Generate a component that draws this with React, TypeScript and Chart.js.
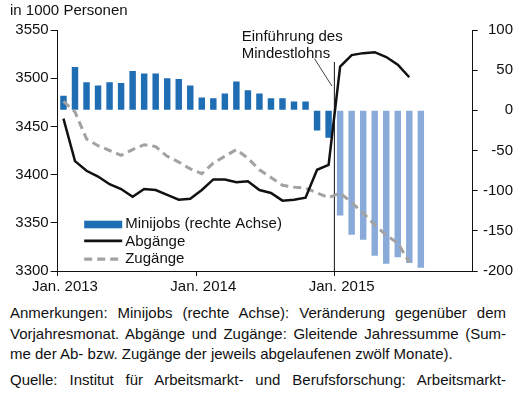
import React, { useEffect, useRef } from "react";
import { Chart, registerables } from "chart.js";

Chart.register(...registerables);

const FONT = "'Liberation Sans', Arial, Helvetica, sans-serif";
const TEXT = "#111111";
const DARK_BLUE = "#1f6db3";
const LIGHT_BLUE = "#8aabd9";
const GRAY = "#a2a2a2";

// Categories: months Jan. 2013 .. Dez. 2015
const monthNames = ["Jan.", "Feb.", "März", "Apr.", "Mai", "Juni", "Juli", "Aug.", "Sep.", "Okt.", "Nov.", "Dez."];
const years = [2013, 2014, 2015];
const categories = years.flatMap((y) => monthNames.map((m) => `${m} ${y}`));
const xTickLabels = ["Jan. 2013", "Jan. 2014", "Jan. 2015"];

// Axis ranges
const leftMin = 3300;
const leftMax = 3550;
const rightMin = -200;
const rightMax = 100;
const tickStep = 50;

// Minijobs: change vs. previous-year month (right axis), Jan 2013 .. Aug 2015
const minijobs = [
  18, 54, 35, 31, 35, 34, 49, 46, 46, 40, 39, 31,
  16, 15, 21, 36, 25, 21, 15, 15, 11, 11, -25, -34,
  -131, -155, -161, -181, -191, -183, -190, -196,
];

// Abgänge: rolling annual sum (left axis), Jan 2013 .. Jul 2015
const abgaenge = [
  3458, 3414, 3404, 3398, 3390, 3385, 3377, 3385, 3384, 3379, 3374, 3375,
  3384, 3395, 3395, 3392, 3393, 3384, 3381, 3373, 3374, 3376, 3405, 3410,
  3512, 3524, 3526, 3527, 3522, 3514, 3501,
];

// Zugänge: rolling annual sum (left axis), Jan 2013 .. Jul 2015
const zugaenge = [
  3476, 3465, 3437, 3430, 3425, 3420, 3426, 3431, 3429, 3419, 3413, 3406,
  3401, 3412, 3419, 3426, 3417, 3405, 3397, 3389, 3387, 3386, 3381, 3376,
  3381, 3371, 3360, 3348, 3337, 3329, 3309,
];

const seriesLabels = ["Minijobs (rechte Achse)", "Abgänge", "Zugänge"];
const markerMonth = "Jan. 2015";
const markerText = ["Einführung des", "Mindestlohns"];

const markerIndex = categories.indexOf(markerMonth);

const annotationPlugin = {
  id: "mindestlohnMarker",
  beforeDatasetsDraw(chart: any) {
    const { ctx, chartArea } = chart;
    const xs = chart.scales.x;
    const x = (xs.getPixelForValue(markerIndex - 1) + xs.getPixelForValue(markerIndex)) / 2;
    ctx.save();
    ctx.strokeStyle = TEXT;
    ctx.lineWidth = 1;
    ctx.beginPath();
    ctx.moveTo(x, chartArea.top + 32);
    ctx.lineTo(x, chartArea.bottom);
    ctx.stroke();
    ctx.lineWidth = 0.8;
    ctx.beginPath();
    ctx.moveTo(x - 20, chartArea.top + 28.5);
    ctx.lineTo(x - 2.5, chartArea.top + 56);
    ctx.stroke();
    ctx.fillStyle = TEXT;
    ctx.font = `15px ${FONT}`;
    ctx.textAlign = "left";
    ctx.textBaseline = "alphabetic";
    markerText.forEach((t, i) => {
      ctx.fillText(t, x - 92.6, chartArea.top + 10.5 + i * 17.2);
    });
    ctx.restore();
  },
};

const legendPlugin = {
  id: "innerLegend",
  afterDraw(chart: any) {
    const { ctx, chartArea } = chart;
    const x0 = chartArea.left + 26.5;
    const x1 = chartArea.left + 64.5;
    const tx = chartArea.left + 67.5;
    const rows = [chartArea.bottom - 42.7, chartArea.bottom - 25.3, chartArea.bottom - 7.7];
    ctx.save();
    ctx.fillStyle = DARK_BLUE;
    ctx.fillRect(x0, rows[0] - 7.6, x1 - x0, 7.6);
    ctx.strokeStyle = TEXT;
    ctx.lineWidth = 2.6;
    ctx.beginPath();
    ctx.moveTo(x0, rows[1] - 4.8);
    ctx.lineTo(x1, rows[1] - 4.8);
    ctx.stroke();
    ctx.strokeStyle = GRAY;
    ctx.lineWidth = 3.2;
    ctx.setLineDash([8, 5]);
    ctx.beginPath();
    ctx.moveTo(x0, rows[2] - 4.2);
    ctx.lineTo(x1 - 3, rows[2] - 4.2);
    ctx.stroke();
    ctx.setLineDash([]);
    ctx.fillStyle = TEXT;
    ctx.font = `15px ${FONT}`;
    ctx.textAlign = "left";
    ctx.textBaseline = "alphabetic";
    seriesLabels.forEach((l, i) => ctx.fillText(l, tx, rows[i]));
    ctx.restore();
  },
};

function ChartBox() {
  const ref = useRef<HTMLCanvasElement | null>(null);
  useEffect(() => {
    if (!ref.current) return;
    const tickFont = { size: 15, family: FONT };
    const chart = new Chart(ref.current, {
      type: "bar",
      data: {
        labels: categories,
        datasets: [
          {
            type: "bar",
            label: seriesLabels[0],
            data: minijobs,
            yAxisID: "y1",
            backgroundColor: minijobs.map((_, i) => (i >= markerIndex ? LIGHT_BLUE : DARK_BLUE)),
            borderWidth: 0,
            barPercentage: 0.56,
            categoryPercentage: 1,
            order: 3,
          } as any,
          {
            type: "line",
            label: seriesLabels[1],
            data: abgaenge,
            yAxisID: "y",
            borderColor: TEXT,
            borderWidth: 2.5,
            pointRadius: 0,
            tension: 0,
            fill: false,
            order: 1,
          } as any,
          {
            type: "line",
            label: seriesLabels[2],
            data: zugaenge,
            yAxisID: "y",
            borderColor: GRAY,
            borderWidth: 3,
            borderDash: [8, 5],
            pointRadius: 0,
            tension: 0,
            fill: false,
            order: 2,
          } as any,
        ],
      },
      options: {
        responsive: false,
        animation: false,
        devicePixelRatio: 1,
        layout: { padding: { left: 15, right: 12, top: 30, bottom: 0 } },
        plugins: {
          legend: { display: false },
          tooltip: { enabled: false },
          title: { display: false },
        },
        scales: {
          x: {
            type: "category",
            offset: true,
            grid: {
              offset: true,
              drawOnChartArea: false,
              drawTicks: true,
              tickLength: 5,
              lineWidth: 1,
              color: (c: any) => (c.index % 12 === 0 ? TEXT : "rgba(0,0,0,0)"),
            },
            border: { display: true, color: TEXT, width: 1 },
            ticks: {
              autoSkip: false,
              maxRotation: 0,
              minRotation: 0,
              padding: 2,
              labelOffset: 1.5,
              color: TEXT,
              font: tickFont,
              callback: (_v: any, i: number) => (xTickLabels.includes(categories[i]) ? categories[i] : ""),
            },
            afterFit: (s: any) => {
              s.height = 23;
            },
          },
          y: {
            position: "left",
            min: leftMin,
            max: leftMax,
            grid: { drawOnChartArea: false, tickLength: 7, color: TEXT },
            border: { display: true, color: TEXT, width: 1 },
            ticks: {
              stepSize: tickStep,
              padding: 2,
              color: TEXT,
              font: tickFont,
              callback: (v: any) => String(v),
            },
            afterFit: (s: any) => {
              s.width = 42.7;
            },
          },
          y1: {
            position: "right",
            min: rightMin,
            max: rightMax,
            grid: { drawOnChartArea: false, tickLength: 5, color: TEXT },
            border: { display: true, color: TEXT, width: 1 },
            ticks: {
              stepSize: tickStep,
              padding: 5,
              crossAlign: "far",
              color: TEXT,
              font: tickFont,
              callback: (v: any) => String(v),
            },
            afterFit: (s: any) => {
              s.width = 40.3;
            },
          },
        },
      } as any,
      plugins: [annotationPlugin, legendPlugin],
    });
    return () => chart.destroy();
  }, []);
  return (
    <canvas
      ref={ref}
      width={525}
      height={294}
      style={{ position: "absolute", left: 0, top: 0, width: 525, height: 294, display: "block" }}
    />
  );
}

export default function App() {
  const justified: React.CSSProperties = { textAlign: "justify", textAlignLast: "justify" as any };
  return (
    <div
      style={{
        position: "absolute",
        left: 0,
        top: 0,
        width: 525,
        height: 393,
        overflow: "hidden",
        background: "#ffffff",
        fontFamily: FONT,
        color: TEXT,
      }}
    >
      <ChartBox />
      <div style={{ position: "absolute", left: 10, top: 0, fontSize: 15, lineHeight: "20px", whiteSpace: "nowrap" }}>
        in 1000 Personen
      </div>
      <div style={{ position: "absolute", left: 10, top: 303, width: 496, fontSize: 15, lineHeight: "20.5px" }}>
        <div style={justified}>Anmerkungen: Minijobs (rechte Achse): Veränderung gegenüber dem</div>
        <div style={justified}>Vorjahresmonat. Abgänge und Zugänge: Gleitende Jahressumme (Sum-</div>
        <div>me der Ab- bzw. Zugänge der jeweils abgelaufenen zwölf Monate).</div>
        <div style={{ ...justified, marginTop: 5.5 }}>
          Quelle: Institut für Arbeitsmarkt- und Berufsforschung: Arbeitsmarkt-
        </div>
      </div>
    </div>
  );
}
